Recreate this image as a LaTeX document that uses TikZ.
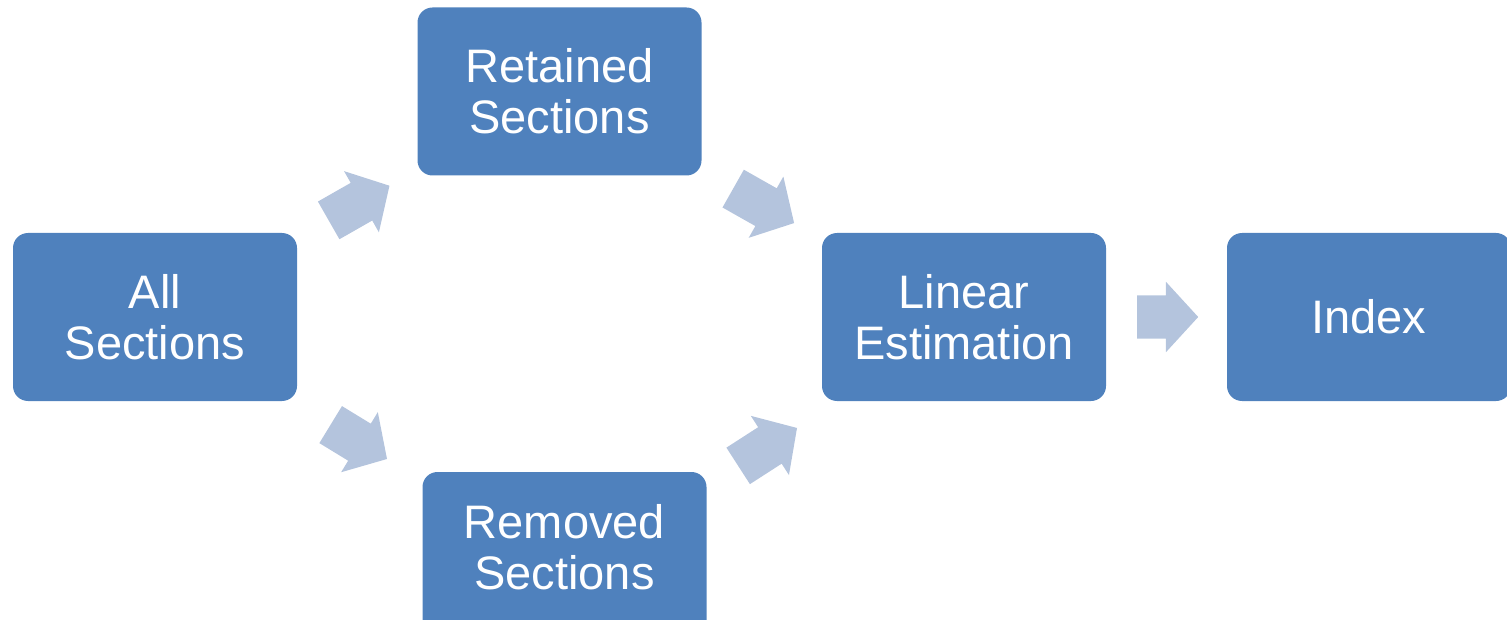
\documentclass[tikz,border=0pt]{standalone}
\usepackage{fontspec}
\setmainfont{Liberation Sans}
\usetikzlibrary{shapes.arrows}
\definecolor{boxblue}{HTML}{4F81BD}
\definecolor{arrowblue}{HTML}{B4C4DD}
\tikzset{
  stagebox/.style={fill=boxblue, draw=none, rounded corners=15pt,
    minimum width=284pt, minimum height=168pt, inner sep=0pt,
    text=white, align=center, font=\fontsize{47}{51}\selectfont},
  boxtext/.style={text=white, align=center, inner sep=0pt,
    font=\fontsize{47}{51}\selectfont},
  flowarrow/.style={single arrow, fill=arrowblue, draw=none, inner sep=0pt,
    single arrow head extend=13.5pt, anchor=tail,
    single arrow tip angle=95, single arrow head indent=0pt}
}
\newcommand{\shaft}{\rule{0pt}{43pt}}
\begin{document}
\begin{tikzpicture}[x=1pt,y=-1pt]
\useasboundingbox (0,0) rectangle (1507,620);
\clip (0,0) rectangle (1507,620);
\node[stagebox] (all) at (155,317) {All\\Sections};
\node[stagebox] (ret) at (559.5,91.5) {Retained\\Sections};
\node[stagebox] (rem) at (564.5,556) {};
\node[boxtext] (remt) at (564.5,547) {Removed\\Sections};
\node[stagebox] (lin) at (964,317) {Linear\\Estimation};
\node[stagebox] (idx) at (1369,317) {Index};
\node[flowarrow, minimum height=70pt, rotate=29.7] (a1) at (328.5,220.5) {\shaft};
\node[flowarrow, minimum height=66pt, rotate=-31.4] (a2) at (330.5,424.5) {\shaft};
\node[flowarrow, minimum height=70pt, rotate=-29.5] (a3) at (733,188.5) {\shaft};
\node[flowarrow, minimum height=70pt, rotate=32.8] (a4) at (738,466) {\shaft};
\node[flowarrow, minimum height=61pt] (a5) at (1137,317) {\shaft};
\end{tikzpicture}
\end{document}
